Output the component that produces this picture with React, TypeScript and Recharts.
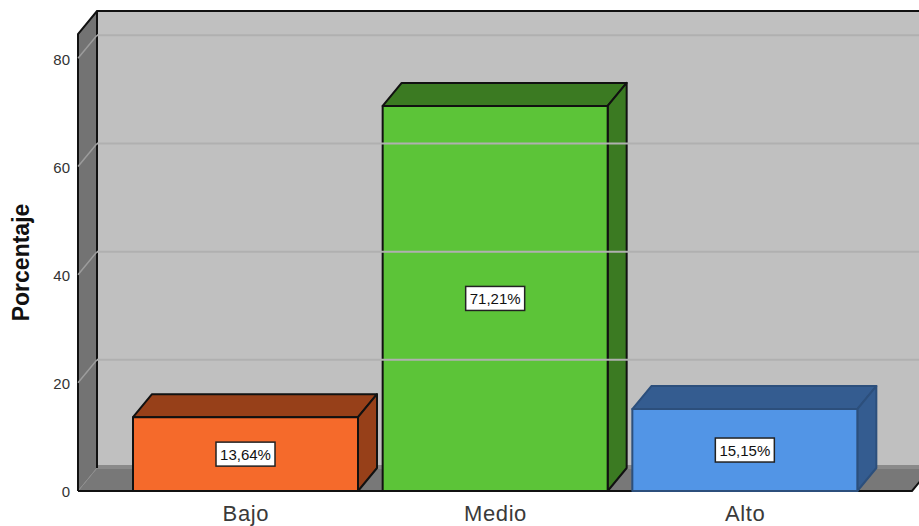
import React from "react";
import {
  Bar,
  BarChart,
  LabelList,
  ReferenceArea,
  ReferenceLine,
  XAxis,
  YAxis,
} from "recharts";

const categories = ["Bajo", "Medio", "Alto"];
const percentages = [13.64, 71.21, 15.15];
const yTicks = [0, 20, 40, 60, 80];
const gridValues = [20, 40, 60, 80];
const yAxisTop = 84.5;

const rows = categories.map((name, i) => ({ name, value: percentages[i] }));

// depth of the fake 3D box, in pixels
const DX = 19;
const DY = 23;
// the category axis is inset so the bars clear the side wall
const PAD_LEFT = 43;
const PAD_RIGHT = 42;
const FONT = '"Liberation Sans", Arial, sans-serif';

const barColors = [
  { face: "#F56A2B", shade: "#974019", line: "#111111" },
  { face: "#5CC438", shade: "#3B7A22", line: "#111111" },
  { face: "#5295E6", shade: "#345C90", line: "#2C4F7C" },
];

// side wall, floor and back wall behind the bars
const Walls = ({ x: insetX, y, width: insetWidth, height }: any) => {
  const x = insetX - PAD_LEFT;
  const width = insetWidth + PAD_LEFT + PAD_RIGHT;
  const right = x + width;
  const bottom = y + height;
  return (
    <g>
      <rect x={x + DX} y={y - DY} width={width} height={height} fill="#C0C0C0" />
      <polygon
        points={`${x},${y} ${x + DX},${y - DY} ${x + DX},${bottom - DY} ${x},${bottom}`}
        fill="#737373"
      />
      <polygon
        points={`${x},${bottom} ${x + DX},${bottom - DY} ${right + DX},${bottom - DY} ${right},${bottom}`}
        fill="#787878"
      />
      <path
        d={`M${x + DX},${bottom - DY - 1} H${right + DX}`}
        stroke="#8A8A8A"
        strokeWidth={4}
      />
      <path
        d={`M${x},${bottom} L${x + DX},${bottom - DY}`}
        stroke="#8E8E8E"
        strokeWidth={1}
      />
      <path
        d={`M${x},${bottom} V${y} L${x + DX},${y - DY} H${right + DX} M${x + DX},${y - DY} V${bottom - DY}`}
        fill="none"
        stroke="#111111"
        strokeWidth={2}
      />
      <path
        d={`M${x},${bottom} H${right} L${right + DX},${bottom - DY}`}
        fill="none"
        stroke="#111111"
        strokeWidth={2}
      />
    </g>
  );
};

// grid line runs up the side wall, then across the back
const WallGridLine = ({ x1, x2, y1 }: any) => (
  <g fill="none">
    <path d={`M${x1},${y1} L${x1 + DX},${y1 - DY}`} stroke="#9C9C9C" strokeWidth={1.5} />
    <path d={`M${x1 + DX},${y1 - DY} H${x2 + DX}`} stroke="#B0B0B0" strokeWidth={2} />
  </g>
);

const Box = ({ x, y, width, height, index }: any) => {
  const c = barColors[index];
  const right = x + width;
  const bottom = y + height;
  return (
    <g stroke={c.line} strokeWidth={2} strokeLinejoin="round">
      <polygon
        points={`${x},${y} ${x + DX},${y - DY} ${right + DX},${y - DY} ${right},${y}`}
        fill={c.shade}
      />
      <polygon
        points={`${right},${y} ${right + DX},${y - DY} ${right + DX},${bottom - DY} ${right},${bottom}`}
        fill={c.shade}
      />
      <rect x={x} y={y} width={width} height={height} fill={c.face} />
    </g>
  );
};

const ValueTag = ({ x, y, width, height, value }: any) => {
  const cx = x + width / 2;
  const cy = y + height / 2;
  return (
    <g>
      <rect
        x={cx - 29.5}
        y={cy - 12}
        width={59}
        height={24}
        fill="#FFFFFF"
        stroke="#222222"
        strokeWidth={1.5}
      />
      <text
        x={cx}
        y={cy + 5.5}
        textAnchor="middle"
        fontFamily={FONT}
        fontSize={15}
        fill="#111111"
      >
        {value.toFixed(2).replace(".", ",")}%
      </text>
    </g>
  );
};

export default function App() {
  return (
    <div style={{ position: "absolute", left: 0, top: 0, width: 919, height: 526, overflow: "hidden" }}>
      <BarChart
        width={919}
        height={526}
        data={rows}
        margin={{ top: 34, right: 7, bottom: 0, left: 0 }}
      >
        <XAxis
          dataKey="name"
          height={35}
          padding={{ left: PAD_LEFT, right: PAD_RIGHT }}
          axisLine={false}
          tickLine={false}
          tickMargin={8}
          interval={0}
          tick={{ fontFamily: FONT, fontSize: 22, fill: "#3A3A3A", letterSpacing: 0.6 }}
        />
        <YAxis
          width={78}
          domain={[0, yAxisTop]}
          ticks={yTicks}
          axisLine={false}
          tickLine={false}
          tick={{ fontFamily: FONT, fontSize: 15, fill: "#333333", dy: 1 }}
          label={{
            value: "Porcentaje",
            angle: -90,
            position: "insideLeft",
            offset: 21,
            style: {
              fontFamily: FONT,
              fontSize: 23,
              fontWeight: 700,
              fill: "#111111",
              textAnchor: "middle",
            },
          }}
        />
        <ReferenceArea y1={0} y2={yAxisTop} ifOverflow="visible" shape={Walls} />
        {gridValues.map((v) => (
          <ReferenceLine key={v} y={v} ifOverflow="visible" shape={WallGridLine} />
        ))}
        <Bar dataKey="value" barSize={225} isAnimationActive={false} shape={Box}>
          <LabelList dataKey="value" content={ValueTag} />
        </Bar>
      </BarChart>
    </div>
  );
}
